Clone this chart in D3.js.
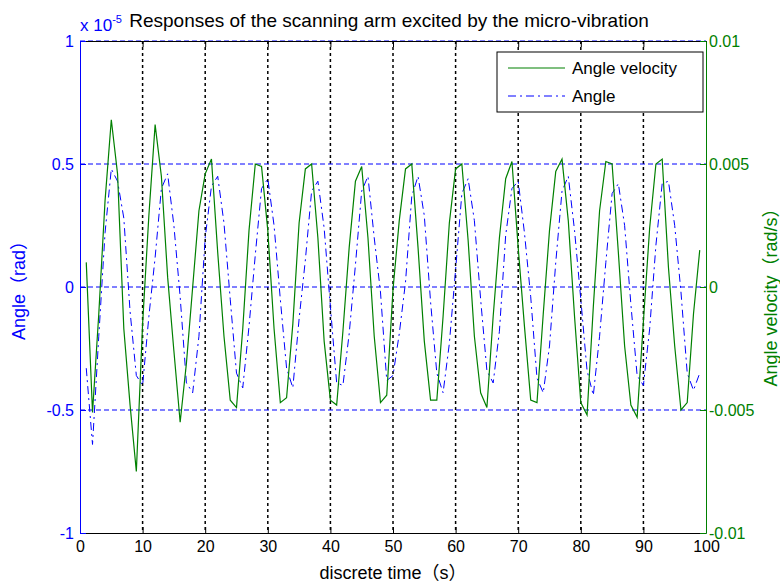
<!DOCTYPE html>
<html>
<head>
<meta charset="utf-8">
<script src="https://cdn.jsdelivr.net/npm/d3@7"></script>
<style>
  body { margin: 0; background: #fff; }
  svg { display: block; }
  text { font-family: "Liberation Sans", Arial, "Noto Sans CJK SC", sans-serif; }
</style>
</head>
<body>
<svg id="chart"></svg>
<script>
// sample times (s)
const timeSteps = d3.range(1, 100);

// angle, in units of 1e-5 rad (left axis)
const angle = [
  -0.33, -0.64, -0.20, 0.22, 0.48, 0.43, 0.28, -0.10, -0.36, -0.40,
  -0.12, 0.12, 0.40, 0.46, 0.25, -0.04, -0.39, -0.43, -0.20, 0.20,
  0.41, 0.45, 0.26, -0.05, -0.35, -0.41, -0.16, 0.13, 0.40, 0.44,
  0.25, -0.05, -0.33, -0.41, -0.13, 0.11, 0.39, 0.43, 0.24, -0.08,
  -0.39, -0.40, -0.19, 0.09, 0.39, 0.45, 0.20, -0.02, -0.38, -0.36,
  -0.19, 0.02, 0.37, 0.45, 0.29, -0.06, -0.35, -0.43, -0.23, 0.07,
  0.38, 0.44, 0.27, -0.05, -0.34, -0.39, -0.18, 0.21, 0.40, 0.43,
  0.22, -0.04, -0.37, -0.43, -0.24, 0.10, 0.39, 0.45, 0.23, -0.05,
  -0.34, -0.44, -0.20, 0.10, 0.38, 0.42, 0.25, -0.07, -0.36, -0.40,
  -0.17, 0.17, 0.42, 0.43, 0.25, -0.02, -0.35, -0.42, -0.35
];

// angle velocity, rad/s (right axis)
const velocity = [
  0.0010, -0.0051, -0.0011, 0.0035, 0.0068, 0.0046, -0.0017, -0.0048, -0.0075, -0.0015,
  0.0029, 0.0066, 0.0045, 0.0004, -0.0026, -0.0055, -0.0031, 0.0000, 0.0031, 0.0046,
  0.0052, 0.0014, -0.0020, -0.0046, -0.0049, -0.0017, 0.0023, 0.0050, 0.0049, 0.0023,
  -0.0017, -0.0047, -0.0045, -0.0015, 0.0026, 0.0048, 0.0050, 0.0020, -0.0022, -0.0046,
  -0.0048, -0.0018, 0.0016, 0.0043, 0.0049, 0.0020, -0.0020, -0.0047, -0.0044, -0.0001,
  0.0027, 0.0048, 0.0050, 0.0016, -0.0022, -0.0046, -0.0046, -0.0012, 0.0026, 0.0048,
  0.0050, 0.0019, -0.0020, -0.0043, -0.0049, -0.0012, 0.0020, 0.0044, 0.0051, 0.0016,
  -0.0016, -0.0046, -0.0047, -0.0011, 0.0023, 0.0047, 0.0052, 0.0027, -0.0012, -0.0047,
  -0.0052, -0.0008, 0.0031, 0.0051, 0.0050, 0.0014, -0.0024, -0.0048, -0.0053, -0.0014,
  0.0024, 0.0050, 0.0052, 0.0008, -0.0024, -0.0050, -0.0047, -0.0011, 0.0015
];

const xTicks = [0, 10, 20, 30, 40, 50, 60, 70, 80, 90, 100];
const leftTicks = [-1, -0.5, 0, 0.5, 1];
const rightTicks = [-0.01, -0.005, 0, 0.005, 0.01];

var svgWidth = 780, svgHeight = 584;
var margin = { top: 41, right: 74, bottom: 51, left: 80 };
var width = svgWidth - margin.left - margin.right;
var height = svgHeight - margin.top - margin.bottom;

var blue = "#0000ff", green = "#008000";

var svg = d3.select("#chart")
    .attr("width", svgWidth)
    .attr("height", svgHeight);

var g = svg.append("g")
    .attr("transform", "translate(" + margin.left + "," + margin.top + ")");

var xScale = d3.scaleLinear().domain([0, 100]).range([0, width]);
var yLeft = d3.scaleLinear().domain([-1, 1]).range([height, 0]);
var yRight = d3.scaleLinear().domain([-0.01, 0.01]).range([height, 0]);

// grid: vertical black dotted, horizontal blue dashed
g.append("g")
    .selectAll("line")
    .data(xTicks.slice(1, -1))
    .join("line")
    .attr("x1", d => xScale(d)).attr("x2", d => xScale(d))
    .attr("y1", 0).attr("y2", height)
    .attr("stroke", "#000")
    .attr("stroke-width", 1.5)
    .attr("stroke-dasharray", "3,3");

g.append("g")
    .selectAll("line")
    .data(leftTicks.slice(1))
    .join("line")
    .attr("x1", 0).attr("x2", width)
    .attr("y1", d => yLeft(d)).attr("y2", d => yLeft(d))
    .attr("stroke", blue)
    .attr("stroke-width", 1)
    .attr("stroke-dasharray", "5,3");

var angleLine = d3.line()
    .x((d, i) => xScale(timeSteps[i]))
    .y(d => yLeft(d));

var velLine = d3.line()
    .x((d, i) => xScale(timeSteps[i]))
    .y(d => yRight(d));

g.append("path")
    .datum(angle)
    .attr("fill", "none")
    .attr("stroke", blue)
    .attr("stroke-width", 1)
    .attr("stroke-dasharray", "8,4,2,4")
    .attr("d", angleLine);

g.append("path")
    .datum(velocity)
    .attr("fill", "none")
    .attr("stroke", green)
    .attr("stroke-width", 1.2)
    .attr("d", velLine);

// axes
var fmt = d => String(d);

var xAxis = g.append("g")
    .attr("transform", "translate(0," + height + ")")
    .call(d3.axisBottom(xScale).tickValues(xTicks).tickFormat(fmt).tickSizeInner(-6).tickSizeOuter(0).tickPadding(8));

g.append("g")
    .call(d3.axisTop(xScale).tickValues(xTicks).tickFormat("").tickSizeInner(-6).tickSizeOuter(0));

var leftAxis = g.append("g")
    .call(d3.axisLeft(yLeft).tickValues(leftTicks).tickFormat(fmt).tickSizeInner(-6).tickSizeOuter(0).tickPadding(6));

var rightAxis = g.append("g")
    .attr("transform", "translate(" + width + ",0)")
    .call(d3.axisRight(yRight).tickValues(rightTicks).tickFormat(fmt).tickSizeInner(-6).tickSizeOuter(0).tickPadding(3));

g.selectAll(".tick text").attr("font-size", 16).attr("font-family", null);
xAxis.selectAll("path, line").attr("stroke", "#000");
xAxis.selectAll("text").attr("fill", "#000");
leftAxis.selectAll("path, line").attr("stroke", blue);
leftAxis.selectAll("text").attr("fill", blue);
rightAxis.selectAll("path, line").attr("stroke", green);
rightAxis.selectAll("text").attr("fill", green);

// exponent label
var expo = svg.append("text")
    .attr("x", margin.left)
    .attr("y", 31)
    .attr("fill", blue)
    .attr("font-size", 17)
    .text("x 10");
expo.append("tspan")
    .attr("dy", -8)
    .attr("font-size", 11)
    .text("-5");

svg.append("text")
    .attr("x", 389)
    .attr("y", 27)
    .attr("text-anchor", "middle")
    .attr("font-size", 19)
    .attr("fill", "#000")
    .text("Responses of the scanning arm excited by the micro-vibration");

svg.append("text")
    .attr("x", 393)
    .attr("y", 579)
    .attr("text-anchor", "middle")
    .attr("font-size", 18)
    .attr("fill", "#000")
    .text("discrete time（s）");

svg.append("text")
    .attr("transform", "translate(25,286) rotate(-90)")
    .attr("text-anchor", "middle")
    .attr("font-size", 18)
    .attr("fill", blue)
    .text("Angle（rad）");

svg.append("text")
    .attr("transform", "translate(777,293) rotate(-90)")
    .attr("text-anchor", "middle")
    .attr("font-size", 18)
    .attr("fill", green)
    .text("Angle velocity（rad/s）");

// legend
var legend = svg.append("g").attr("transform", "translate(497,52)");
legend.append("rect")
    .attr("width", 206).attr("height", 60)
    .attr("fill", "#fff").attr("stroke", "#000");
legend.append("line")
    .attr("x1", 11).attr("x2", 68).attr("y1", 16).attr("y2", 16)
    .attr("stroke", green).attr("stroke-width", 1.2);
legend.append("line")
    .attr("x1", 11).attr("x2", 68).attr("y1", 44).attr("y2", 44)
    .attr("stroke", blue).attr("stroke-dasharray", "8,4,2,4");
legend.append("text")
    .attr("x", 75).attr("y", 22)
    .attr("font-size", 17).attr("fill", "#000")
    .text("Angle velocity");
legend.append("text")
    .attr("x", 75).attr("y", 50)
    .attr("font-size", 17).attr("fill", "#000")
    .text("Angle");
</script>
</body>
</html>
